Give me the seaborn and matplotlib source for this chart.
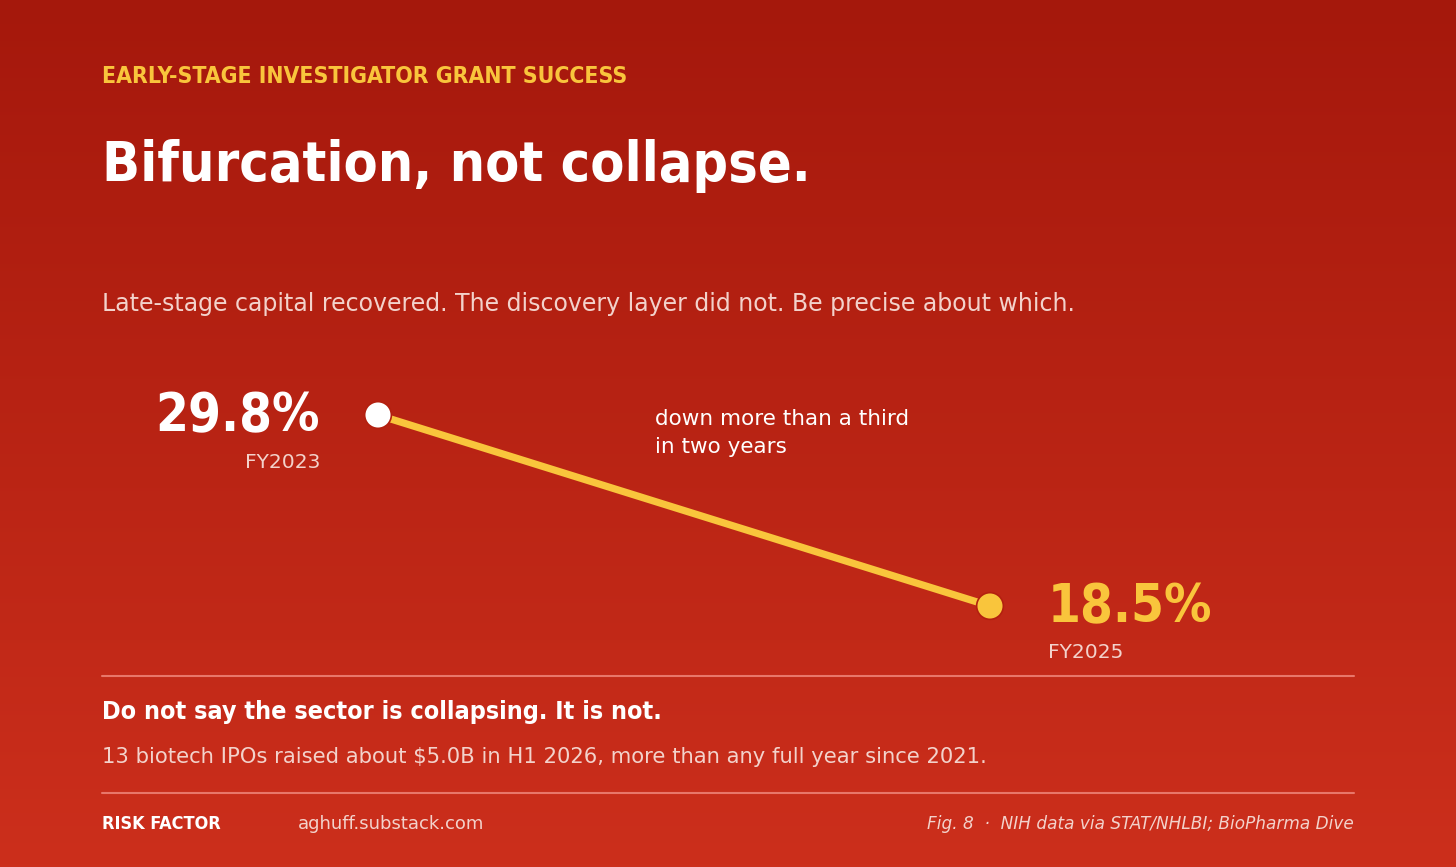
import numpy as np
import pandas as pd
import matplotlib
matplotlib.use("Agg")
import matplotlib.pyplot as plt
import seaborn as sns

# ---- data ----
years = ["FY2023", "FY2025"]
rates = [29.8, 18.5]
rate_labels = ["29.8%", "18.5%"]
point_colors = ["#FFFFFF", "#F9C53C"]

kicker = "EARLY-STAGE INVESTIGATOR GRANT SUCCESS"
title = "Bifurcation, not collapse."
subtitle = "Late-stage capital recovered. The discovery layer did not. Be precise about which."
annotation_lines = ["down more than a third", "in two years"]
note_bold = "Do not say the sector is collapsing. It is not."
note_text = "13 biotech IPOs raised about $5.0B in H1 2026, more than any full year since 2021."
brand = "RISK FACTOR"
site = "aghuff.substack.com"
source = "Fig. 8  \u00b7  NIH data via STAT/NHLBI; BioPharma Dive"

sns.set_theme(style="white")
plt.rcParams['font.family'] = ['DejaVu Sans']

W, H = 1456, 867
fig = plt.figure(figsize=(W / 100, H / 100), dpi=100)

# background gradient
bg = fig.add_axes([0, 0, 1, 1])
top = np.array([0xA5, 0x18, 0x0C]) / 255
bot = np.array([0xCC, 0x2F, 0x1C]) / 255
t = np.linspace(0, 1, 256)[:, None]
grad = top[None, :] * (1 - t) + bot[None, :] * t
bg.imshow(grad[:, None, :], aspect="auto", extent=[0, 1, 0, 1], origin="upper")
bg.set_xlim(0, 1)
bg.set_ylim(0, 1)
bg.axis("off")

YEL = "#F9C53C"
PINK = "#F3D2CB"

def px(x, y):
    return x / W, 1 - y / H

def ftext(x, y, s, **kw):
    fig.text(*px(x, y), s, **kw)

ftext(102, 83, kicker, color=YEL, fontsize=16.5, fontweight="bold", fontstretch="condensed", va="baseline")
ftext(102, 181, title, color="white", fontsize=40, fontweight="bold", fontstretch="condensed", va="baseline")
ftext(102, 311, subtitle, color=PINK, fontsize=17, va="baseline")

# main axes: point centers at (378,415) and (990,606)
x0, x1, yt, yb = 378, 990, 415, 606
ax = fig.add_axes([x0 / W, 1 - yb / H, (x1 - x0) / W, (yb - yt) / H])
ax.set_facecolor("none")
df = pd.DataFrame({"idx": [0, 1], "year": years, "rate": rates})
sns.lineplot(data=df, x="idx", y="rate", ax=ax, color=YEL, linewidth=5.2, legend=False)
sns.scatterplot(data=df, x="idx", y="rate", hue="year", palette=dict(zip(years, point_colors)),
                s=370, edgecolor="#B3200F", linewidth=1.2, ax=ax, legend=False, zorder=5, clip_on=False)
for c in ax.collections:
    c.set_clip_on(False)
for l in ax.lines:
    l.set_clip_on(False)
ax.set_xlim(0, 1)
ax.set_ylim(rates[1], rates[0])
ax.axis("off")

ftext(320, 431, rate_labels[0], color="white", fontsize=38, fontweight="bold", fontstretch="condensed", ha="right", va="baseline")
ftext(320, 468, years[0], color=PINK, fontsize=14.6, ha="right", va="baseline")
ftext(1048, 622, rate_labels[1], color=YEL, fontsize=38, fontweight="bold", fontstretch="condensed", ha="left", va="baseline")
ftext(1048, 658, years[1], color=PINK, fontsize=14.6, ha="left", va="baseline")
ftext(655, 425, annotation_lines[0], color="white", fontsize=15.5, ha="left", va="baseline")
ftext(655, 453, annotation_lines[1], color="white", fontsize=15.5, ha="left", va="baseline")

# separators
for yy in (676, 793):
    bg.plot([102 / W, 1354 / W], [1 - yy / H] * 2, color="#E8776A", linewidth=1.5)

ftext(102, 719, note_bold, color="white", fontsize=18, fontweight="bold", fontstretch="condensed", va="baseline")
ftext(102, 763, note_text, color=PINK, fontsize=15.2, va="baseline")
ftext(102, 829, brand, color="white", fontsize=13, fontweight="bold", fontstretch="condensed", va="baseline")
ftext(298, 829, site, color=PINK, fontsize=13, va="baseline")
ftext(1354, 829, source, color=PINK, fontsize=12.2, style="italic", ha="right", va="baseline")

fig.savefig("out.png", dpi=100)
